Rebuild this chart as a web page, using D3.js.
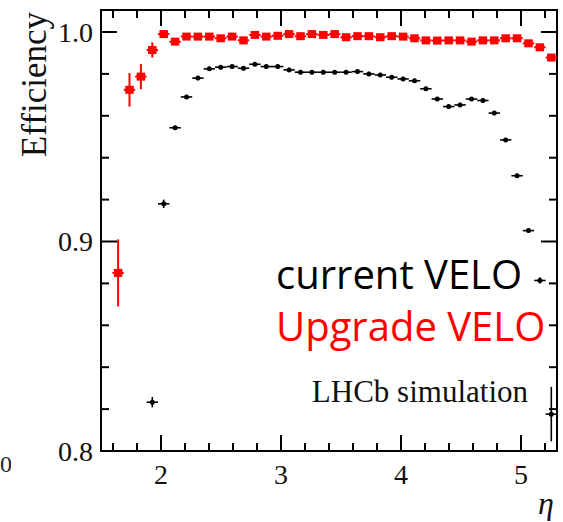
<!DOCTYPE html>
<html>
<head>
<meta charset="utf-8">
<script src="https://cdn.jsdelivr.net/npm/d3@7"></script>
<style>
  body { margin: 0; background: #fff; }
  #chart { width: 563px; height: 522px; }
</style>
</head>
<body>
<div id="chart"></div>
<script>
// eta bin centres (bins of 0.095 from 1.5 to 5.3)
const upgradeEta = [1.6425, 1.7375, 1.8325, 1.9275, 2.0225, 2.1175, 2.2125, 2.3075, 2.4025, 2.4975,
    2.5925, 2.6875, 2.7825, 2.8775, 2.9725, 3.0675, 3.1625, 3.2575, 3.3525, 3.4475,
    3.5425, 3.6375, 3.7325, 3.8275, 3.9225, 4.0175, 4.1125, 4.2075, 4.3025, 4.3975,
    4.4925, 4.5875, 4.6825, 4.7775, 4.8725, 4.9675, 5.0625, 5.1575, 5.2525];
const upgradeEff = [0.885, 0.9724, 0.9787, 0.9914, 0.999, 0.9954, 0.9978, 0.9978, 0.9978, 0.997,
    0.9978, 0.996, 0.9986, 0.9978, 0.9982, 0.999, 0.998, 0.999, 0.9986, 0.999,
    0.9975, 0.998, 0.998, 0.9975, 0.998, 0.9978, 0.997, 0.996, 0.9959, 0.996,
    0.996, 0.9954, 0.996, 0.996, 0.997, 0.997, 0.9946, 0.9927, 0.9878];
const upgradeErr = [0.016, 0.008, 0.006, 0.0036, 0.001, 0.001, 0.001, 0.001, 0.001, 0.001,
    0.001, 0.001, 0.001, 0.001, 0.001, 0.001, 0.001, 0.001, 0.001, 0.001,
    0.001, 0.001, 0.001, 0.001, 0.001, 0.001, 0.001, 0.001, 0.001, 0.001,
    0.001, 0.001, 0.001, 0.001, 0.001, 0.001, 0.001, 0.001, 0.0015];

const currentEta = [1.9275, 2.0225, 2.1175, 2.2125, 2.3075, 2.4025, 2.4975,
    2.5925, 2.6875, 2.7825, 2.8775, 2.9725, 3.0675, 3.1625, 3.2575, 3.3525, 3.4475,
    3.5425, 3.6375, 3.7325, 3.8275, 3.9225, 4.0175, 4.1125, 4.2075, 4.3025, 4.3975,
    4.4925, 4.5875, 4.6825, 4.7775, 4.8725, 4.9675, 5.0625, 5.1575, 5.2525];
const currentEff = [0.8233, 0.918, 0.9543, 0.969, 0.978, 0.9824, 0.9832,
    0.9835, 0.9827, 0.9846, 0.9835, 0.9835, 0.9819, 0.9808, 0.9808, 0.9808, 0.9808,
    0.9808, 0.9811, 0.98, 0.9795, 0.9784, 0.9776, 0.9767, 0.9729, 0.968, 0.9644,
    0.9652, 0.968, 0.9673, 0.9613, 0.9485, 0.9314, 0.9052, 0.8814, 0.8176];
const currentErr = [0.0025, 0.002, 0.001, 0.001, 0.001, 0.001, 0.001,
    0.001, 0.001, 0.001, 0.001, 0.001, 0.001, 0.001, 0.001, 0.001, 0.001,
    0.001, 0.001, 0.001, 0.001, 0.001, 0.001, 0.001, 0.001, 0.001, 0.001,
    0.001, 0.001, 0.001, 0.001, 0.001, 0.001, 0.001, 0.0015, 0.013];

const binHalf = 0.0475;
const xTicks = [2, 3, 4, 5];
const yTicks = [0.8, 0.9, 1.0];

const width = 563;
const height = 522;
const margin = { top: 10, left: 101, right: 6, bottom: 71 };

const svg = d3.select("#chart")
    .append("svg")
    .attr("width", width)
    .attr("height", height);

const x = d3.scaleLinear().domain([1.5, 5.3]).range([margin.left, width - margin.right]);
const y = d3.scaleLinear().domain([0.8, 1.0105]).range([height - margin.bottom, margin.top]);

const x0 = x.range()[0], x1 = x.range()[1];
const y0 = y.range()[0], y1 = y.range()[1];

// minor / major ticks
const xMinor = d3.range(16, 53, 2).map(d => d / 10);
const yMinor = d3.range(80, 101, 2).map(d => d / 100);
const isMajorX = v => Math.abs(v - Math.round(v)) < 1e-6;
const isMajorY = v => Math.abs(v * 10 - Math.round(v * 10)) < 1e-6;

const ticks = svg.append("g").attr("stroke", "#000").attr("stroke-width", 2);
ticks.selectAll(".xb").data(xMinor).join("line")
    .attr("x1", d => x(d)).attr("x2", d => x(d))
    .attr("y1", y0).attr("y2", d => y0 - (isMajorX(d) ? 16 : 8));
ticks.selectAll(".xt").data(xMinor).join("line")
    .attr("x1", d => x(d)).attr("x2", d => x(d))
    .attr("y1", y1).attr("y2", d => y1 + (isMajorX(d) ? 16 : 8));
ticks.selectAll(".yl").data(yMinor).join("line")
    .attr("y1", d => y(d)).attr("y2", d => y(d))
    .attr("x1", x0).attr("x2", d => x0 + (isMajorY(d) ? 16 : 8));
ticks.selectAll(".yr").data(yMinor).join("line")
    .attr("y1", d => y(d)).attr("y2", d => y(d))
    .attr("x1", x1).attr("x2", d => x1 - (isMajorY(d) ? 16 : 8));

svg.append("rect")
    .attr("x", x0).attr("y", y1)
    .attr("width", x1 - x0).attr("height", y0 - y1)
    .attr("fill", "none").attr("stroke", "#000").attr("stroke-width", 2);

// tick labels
const serif = "'Liberation Serif', 'Times New Roman', serif";
svg.append("g").selectAll("text").data(xTicks).join("text")
    .attr("x", d => x(d)).attr("y", y0 + 33)
    .attr("text-anchor", "middle")
    .style("font-family", serif).style("font-size", "28px").attr("fill", "#111")
    .text(d => d);
svg.append("g").selectAll("text").data(yTicks).join("text")
    .attr("x", x0 - 8).attr("y", d => y(d)).attr("dy", "0.35em")
    .attr("text-anchor", "end")
    .style("font-family", serif).style("font-size", "28px").attr("fill", "#111")
    .text(d => d3.format(".1f")(d));

svg.append("text")
    .attr("transform", "translate(46,12) rotate(-90)")
    .attr("text-anchor", "end")
    .style("font-family", serif).style("font-size", "35px").attr("fill", "#111")
    .text("Efficiency");

svg.append("text")
    .attr("x", 538).attr("y", 514)
    .style("font-family", serif).style("font-size", "32px").style("font-style", "italic")
    .attr("fill", "#111")
    .text("η");

// label of the neighbouring figure, clipped at its right edge
svg.append("clipPath").attr("id", "leftcut")
    .append("rect").attr("x", 0).attr("y", 440).attr("width", 11).attr("height", 40);
svg.append("text")
    .attr("x", 0).attr("y", 472)
    .attr("clip-path", "url(#leftcut)")
    .style("font-family", serif).style("font-size", "24px").attr("fill", "#223")
    .text("00");

// current VELO: black dots with bars
const cur = currentEta.map((e, i) => ({ eta: e, eff: currentEff[i], err: currentErr[i] }));
const gc = svg.append("g").attr("stroke", "#000").attr("stroke-width", 1.6);
gc.selectAll(".h").data(cur).join("line")
    .attr("x1", d => x(d.eta - binHalf)).attr("x2", d => x(d.eta + binHalf))
    .attr("y1", d => y(d.eff)).attr("y2", d => y(d.eff));
gc.selectAll(".v").data(cur).join("line")
    .attr("x1", d => x(d.eta)).attr("x2", d => x(d.eta))
    .attr("y1", d => y(d.eff - d.err)).attr("y2", d => y(d.eff + d.err));
gc.selectAll("circle").data(cur).join("circle")
    .attr("cx", d => x(d.eta)).attr("cy", d => y(d.eff))
    .attr("r", 2.5).attr("fill", "#000").attr("stroke", "none");

// Upgrade VELO: red squares with bars
const upg = upgradeEta.map((e, i) => ({ eta: e, eff: upgradeEff[i], err: upgradeErr[i] }));
const gu = svg.append("g").attr("stroke", "#ff0000").attr("stroke-width", 2);
gu.selectAll(".h").data(upg).join("line")
    .attr("x1", d => x(d.eta - binHalf)).attr("x2", d => x(d.eta + binHalf))
    .attr("y1", d => y(d.eff)).attr("y2", d => y(d.eff));
gu.selectAll(".v").data(upg).join("line")
    .attr("x1", d => x(d.eta)).attr("x2", d => x(d.eta))
    .attr("y1", d => y(d.eff - d.err)).attr("y2", d => y(d.eff + d.err));
gu.selectAll("rect").data(upg).join("rect")
    .attr("x", d => x(d.eta) - 4.25).attr("y", d => y(d.eff) - 4)
    .attr("width", 8.5).attr("height", 8)
    .attr("fill", "#ff0000").attr("stroke", "none");

// legend
const sans = "'Open Sans', 'Noto Sans', sans-serif";
svg.append("text")
    .attr("x", 276).attr("y", 289)
    .style("font-family", sans).style("font-size", "40px").attr("fill", "#000")
    .text("current VELO");
svg.append("text")
    .attr("x", 276).attr("y", 341)
    .style("font-family", sans).style("font-size", "40px").attr("fill", "#ff0000")
    .text("Upgrade VELO");
svg.append("text")
    .attr("x", 528).attr("y", 402).attr("text-anchor", "end")
    .style("font-family", serif).style("font-size", "31px").attr("fill", "#111")
    .text("LHCb simulation");
</script>
</body>
</html>
